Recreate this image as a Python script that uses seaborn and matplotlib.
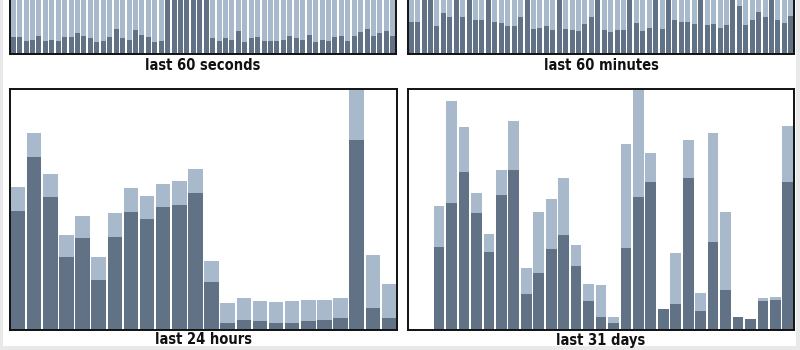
import matplotlib
matplotlib.use("Agg")
import matplotlib.pyplot as plt
import seaborn as sns
import pandas as pd
from matplotlib.patches import Rectangle

sns.set_style("white")
plt.rcParams['font.family'] = ['DejaVu Sans']

DARK = "#627286"
LIGHT = "#a9b9cc"

# ---- data (percent of panel scale) ----
# last 60 seconds: light (total) reaches top of the scale for every bar
sec_total = [100] * 60
sec_part = [6.8, 6.8, 5.4, 5.8, 7.4, 5.4, 5.8, 5.4, 6.8, 6.8, 8.5, 7.4,
            6.3, 4.7, 5.4, 6.8, 10.3, 6.3, 5.8, 9.7, 7.9, 6.8, 4.7, 5.4,
            100, 100, 100, 100, 100, 100, 100,
            6.3, 5.4, 6.3, 5.8, 9.3, 4.7, 6.3, 6.8, 5.4, 5.4, 5.4, 5.8,
            7.4, 6.3, 5.8, 7.9, 4.7, 5.8, 5.4, 6.8, 7.4, 5.4, 7.4, 8.8,
            10.3, 7.4, 8.5, 9.3, 7.4]

min_total = [100] * 60
min_part = [13.3, 13.3, 100, 100, 11.3, 16.8, 15.1, 100, 15.1, 100, 13.8, 13.8,
            100, 13.3, 12.6, 11.3, 11.3, 15.1, 100, 10.1, 10.7, 11.3, 9.6, 100,
            10.1, 9.6, 9.2, 12.2, 15.1, 100, 9.6, 8.8, 9.6, 9.6, 100, 12.6,
            9.2, 10.7, 100, 10.1, 100, 13.8, 13.3, 13.2, 12.2, 100, 11.8, 12.2,
            10.7, 11.7, 100, 19.9, 11.8, 13.8, 17.2, 15.1, 100, 13.8, 12.6, 15.8]

hour_total = [59.1, 81.6, 64.6, 39.3, 47.3, 30.0, 48.3, 58.7, 55.6, 60.7, 61.7, 66.6,
              28.3, 11.0, 12.9, 11.9, 11.4, 11.9, 12.3, 12.3, 13.3, 100, 30.8, 18.9]
hour_part = [49.4, 71.6, 54.9, 30.0, 37.9, 20.5, 38.3, 48.8, 45.9, 50.8, 51.7, 56.6,
             19.6, 2.5, 4.0, 3.6, 2.5, 2.5, 3.6, 4.0, 4.6, 78.6, 9.0, 4.6]

day_total = [0, 0, 51.3, 95.1, 84.0, 56.7, 39.8, 66.3, 86.5, 25.4, 48.8, 54.2,
             63.2, 35.0, 19.0, 18.3, 5.0, 77.3, 100, 73.2, 8.7, 31.9, 78.6, 15.0,
             81.6, 48.8, 5.0, 4.3, 12.9, 13.5, 84.6]
day_part = [0, 0, 34.4, 52.8, 65.3, 48.3, 32.3, 55.8, 66.3, 14.6, 23.6, 33.4,
            39.4, 26.5, 11.7, 5.4, 2.5, 33.8, 54.9, 61.2, 8.7, 10.4, 62.8, 7.5,
            36.3, 16.6, 5.0, 4.3, 11.7, 12.1, 61.2]

titles = ["last 60 seconds", "last 60 minutes", "last 24 hours", "last 31 days"]

W, H = 800, 350
fig = plt.figure(figsize=(8, 3.5), dpi=100)
fig.patch.set_facecolor("#e9e9e9")
fig.add_artist(Rectangle((3 / W, 4 / H), 793 / W, 1 - 4 / H, transform=fig.transFigure,
                         facecolor="white", edgecolor="none", zorder=0))

def px_axes(left, right, top, bottom):
    return fig.add_axes([left / W, 1 - bottom / H, (right - left) / W, (bottom - top) / H])

panels = [
    (px_axes(10, 396, 53.5 - 240, 53.5), sec_total, sec_part, 0.78, 66),
    (px_axes(408, 794, 53.5 - 240, 53.5), min_total, min_part, 0.78, 66),
    (px_axes(10, 397, 89, 329.5), hour_total, hour_part, 0.9, 340),
    (px_axes(408, 794, 89, 329.5), day_total, day_part, 0.86, 340),
]

for (ax, total, part, w, ty), title in zip(panels, titles):
    df = pd.DataFrame({"slot": [str(i) for i in range(len(total))],
                       "total": total, "part": part})
    sns.barplot(data=df, x="slot", y="total", color=LIGHT, saturation=1, width=w,
                edgecolor="none", ax=ax)
    sns.barplot(data=df, x="slot", y="part", color=DARK, saturation=1, width=w,
                edgecolor="none", ax=ax)
    n = len(total)
    ax.set_xlim(-0.5, n - 0.5)
    ax.set_ylim(0, 100)
    ax.set_xticks([]); ax.set_yticks([])
    ax.set_xlabel(""); ax.set_ylabel("")
    for s in ax.spines.values():
        s.set_color("#111111"); s.set_linewidth(1.4); s.set_visible(True)
    ax.set_facecolor("white")
    pos = ax.get_position()
    fig.text(pos.x0 + pos.width / 2, 1 - ty / H, title, ha="center", va="center",
             fontsize=10.5, fontweight="bold", color="#111111", fontstretch="condensed")

fig.savefig("out.png", dpi=100, facecolor=fig.get_facecolor())
